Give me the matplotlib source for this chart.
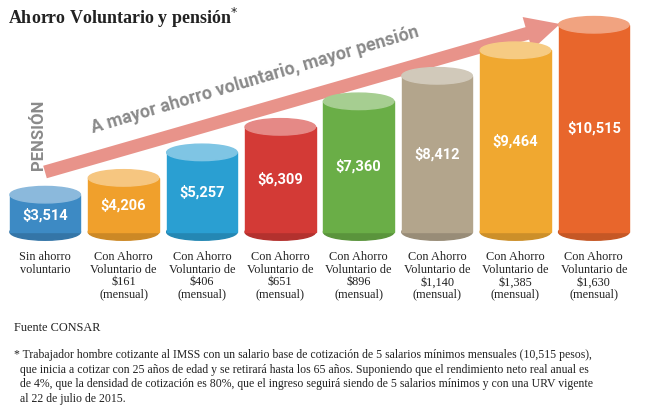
import matplotlib
matplotlib.use("Agg")
import matplotlib.pyplot as plt
from matplotlib.patches import Ellipse, Rectangle, FancyArrow
import matplotlib.colors as mc

values = [3514, 4206, 5257, 6309, 7360, 8412, 9464, 10515]
value_labels = ["$3,514", "$4,206", "$5,257", "$6,309", "$7,360", "$8,412", "$9,464", "$10,515"]
categories = ["Sin ahorro\nvoluntario", "Con Ahorro\nVoluntario de\n$161\n(mensual)",
              "Con Ahorro\nVoluntario de\n$406\n(mensual)", "Con Ahorro\nVoluntario de\n$651\n(mensual)",
              "Con Ahorro\nVoluntario de\n$896\n(mensual)", "Con Ahorro\nVoluntario de\n$1,140\n(mensual)",
              "Con Ahorro\nVoluntario de\n$1,385\n(mensual)", "Con Ahorro\nVoluntario de\n$1,630\n(mensual)"]
colors = ["#3d8ac4", "#f0a02c", "#2a9fd2", "#d33a36", "#6aae47", "#b3a58c", "#f0a830", "#e8662c"]

W, H = 650, 412
fig = plt.figure(figsize=(6.5, 4.12), dpi=100)
fig.patch.set_facecolor("white")

ov = fig.add_axes([0, 0, 1, 1]); ov.set_xlim(0, W); ov.set_ylim(H, 0); ov.axis("off")
ov.add_patch(FancyArrow(45, 172, 515, -148, width=13, head_width=34, head_length=34,
                        length_includes_head=True, color="#e8938a", lw=0))
ov.text(255, 80, "A mayor ahorro voluntario, mayor pensión", rotation=16.5, ha="center", va="center",
        fontsize=13, color="#8a8a8a", fontweight="bold", family="Roboto", fontstretch="condensed")
ov.text(38, 135, "PENSIÓN", rotation=90, ha="center", va="center", fontsize=12,
        color="#8a8a8a", fontweight="bold", family="Roboto")
ov.text(8, 18, "Ahorro Voluntario y pensión$^{*}$", fontsize=13, fontweight="bold", family="Liberation Serif",
        va="center", color="#222")

y0, y1 = 1977, 11000
ax = fig.add_axes([6/W, 1 - 232/H, (633-6)/W, (232-13)/H], zorder=2)
ax.set_xlim(-0.5, 7.5); ax.set_ylim(y0, y1); ax.axis("off"); ax.patch.set_alpha(0)
bw = 0.9; eh = 680
for i, (v, c) in enumerate(zip(values, colors)):
    dark = tuple(x*0.85 for x in mc.to_rgb(c))
    light = tuple(1-(1-x)*0.6 for x in mc.to_rgb(c))
    ax.add_patch(Ellipse((i, y0), bw, eh, color=dark, clip_on=False))
    ax.add_patch(Rectangle((i-bw/2, y0), bw, v-y0, color=c, clip_on=False))
    ax.add_patch(Ellipse((i, v), bw, eh, color=light, clip_on=False))
    ax.text(i, y0 + (v-y0)*0.5 if i else y0 + (v-y0)*0.45, value_labels[i], ha="center", va="center",
            color="white", fontsize=10.5, fontweight="bold", family="Roboto", fontstretch="condensed")
    ax.text(i, y0 - 800, categories[i], ha="center", va="top", fontsize=8.8, family="Liberation Serif",
            color="#222", linespacing=1.05, clip_on=False)

ov.text(14, 328, "Fuente CONSAR", fontsize=8.8, family="Liberation Serif", va="center", color="#222")
ov.text(14, 377, "* Trabajador hombre cotizante al IMSS con un salario base de cotización de 5 salarios mínimos mensuales (10,515 pesos),\n"
        "  que inicia a cotizar con 25 años de edad y se retirará hasta los 65 años. Suponiendo que el rendimiento neto real anual es\n"
        "  de 4%, que la densidad de cotización es 80%, que el ingreso seguirá siendo de 5 salarios mínimos y con una URV vigente\n"
        "  al 22 de julio de 2015.", fontsize=8.5, family="Liberation Serif", va="center", color="#222", linespacing=1.3)

fig.savefig("out.png", dpi=100)
